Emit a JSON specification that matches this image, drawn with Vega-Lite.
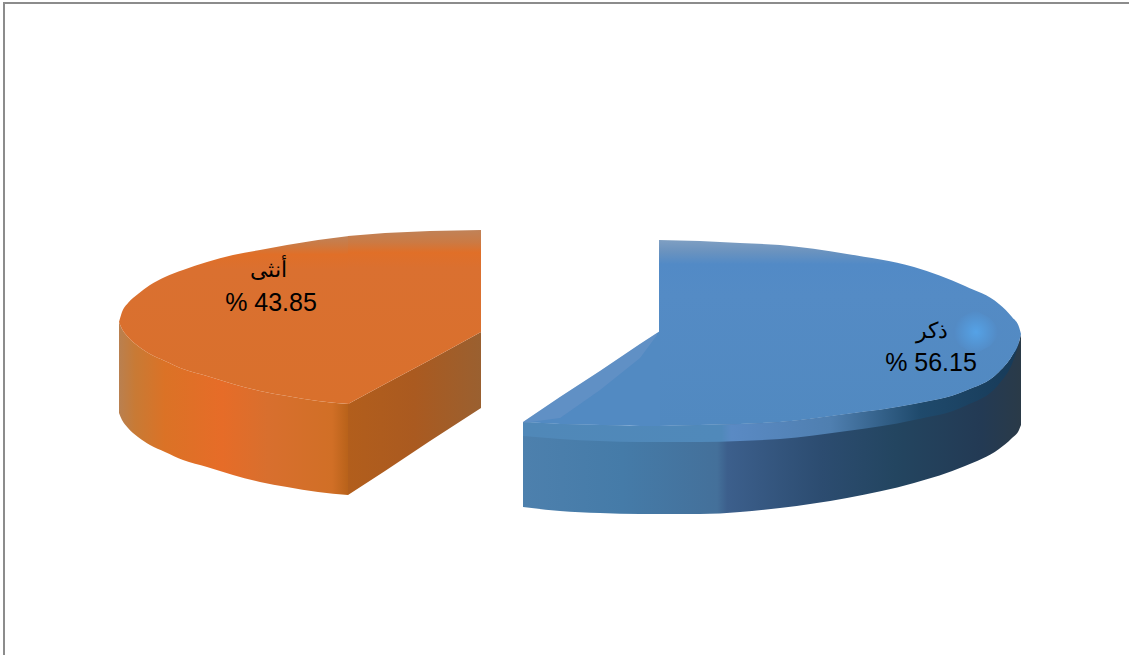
{
"$schema":"https://vega.github.io/schema/vega-lite/v6.json",
"width":1129,"height":655,"padding":0,"autosize":{"type":"none"},
"background":"white",
"config":{"view":{"stroke":null}},
"datasets":{
"frame":[{"x":4,"y":655,"o":0},{"x":4,"y":3,"o":1},{"x":1129,"y":3,"o":2}],
"orangeFaceArc":[{"x":119,"y":322,"y2":322},{"x":122,"y":312,"y2":329},{"x":128,"y":303,"y2":337},{"x":138,"y":294,"y2":346},{"x":150,"y":285,"y2":354},{"x":165,"y":277,"y2":361},{"x":183,"y":270,"y2":369},{"x":207,"y":262,"y2":376},{"x":233,"y":255,"y2":384},{"x":260,"y":250,"y2":391},{"x":287,"y":245,"y2":396},{"x":318,"y":240,"y2":401},{"x":349,"y":236,"y2":404}],
"orangeFaceCut":[{"x":348,"y":236,"y2":404},{"x":385,"y":233,"y2":384},{"x":430,"y":231,"y2":360},{"x":481,"y":230,"y2":332}],
"orangeWall":[{"x":119,"y":322,"y2":413},{"x":122,"y":329,"y2":420},{"x":128,"y":337,"y2":428},{"x":138,"y":346,"y2":437},{"x":150,"y":354,"y2":445},{"x":165,"y":361,"y2":452},{"x":183,"y":369,"y2":460},{"x":207,"y":376,"y2":467},{"x":233,"y":384,"y2":475},{"x":260,"y":391,"y2":482},{"x":287,"y":396,"y2":487},{"x":318,"y":401,"y2":492},{"x":348,"y":404,"y2":495}],
"orangeCut":[{"x":348,"y":404,"y2":495},{"x":385,"y":384,"y2":471},{"x":430,"y":360,"y2":441},{"x":481,"y":332,"y2":408}],
"blueWall":[{"x":523,"y":422,"y2":507},{"x":560,"y":424,"y2":511},{"x":600,"y":425,"y2":513},{"x":640,"y":426,"y2":514},{"x":700,"y":425,"y2":514},{"x":740,"y":424,"y2":512},{"x":780,"y":422,"y2":508},{"x":847,"y":414,"y2":498},{"x":914,"y":404,"y2":483},{"x":965,"y":391,"y2":466},{"x":999,"y":372,"y2":449},{"x":1012,"y":356,"y2":438},{"x":1019,"y":342,"y2":430},{"x":1021,"y":334,"y2":425}],
"blueBand":[{"x":523,"y":422,"y2":436},{"x":560,"y":424,"y2":439},{"x":600,"y":425,"y2":441},{"x":640,"y":426,"y2":442},{"x":700,"y":425,"y2":442},{"x":740,"y":424,"y2":441},{"x":780,"y":422,"y2":439},{"x":847,"y":414,"y2":431},{"x":914,"y":404,"y2":420},{"x":965,"y":391,"y2":406},{"x":999,"y":372,"y2":384},{"x":1012,"y":356,"y2":364},{"x":1019,"y":342,"y2":344}],
"blueFaceCut":[{"x":523,"y":422,"y2":422},{"x":560,"y":397,"y2":424},{"x":600,"y":371,"y2":425},{"x":640,"y":344,"y2":426},{"x":660,"y":331,"y2":426}],
"blueFaceArc":[{"x":659,"y":240,"y2":426},{"x":700,"y":241,"y2":425},{"x":740,"y":243,"y2":424},{"x":780,"y":245,"y2":422},{"x":847,"y":254,"y2":414},{"x":914,"y":267,"y2":404},{"x":965,"y":286,"y2":391},{"x":999,"y":304,"y2":372},{"x":1012,"y":317,"y2":356},{"x":1019,"y":327,"y2":342},{"x":1021,"y":334,"y2":334}],
"blueCutEdge":[{"x":523,"y":422,"y2":423},{"x":560,"y":397,"y2":418},{"x":600,"y":371,"y2":390},{"x":640,"y":344,"y2":358},{"x":657,"y":333,"y2":335}],
"blueGlow":[{"x":950,"y":332,"y2":332},{"x":960,"y":318,"y2":346},{"x":975,"y":310,"y2":354},{"x":990,"y":318,"y2":346},{"x":1002,"y":332,"y2":332}],
"labels":[{"slice":"أنثى","value":43.85,"x":268,"y":270,"text":"أنثى","size":22},{"slice":"أنثى","value":43.85,"x":271,"y":303,"text":"% 43.85","size":25},{"slice":"ذكر","value":56.15,"x":932,"y":331,"text":"ذكر","size":22},{"slice":"ذكر","value":56.15,"x":931,"y":363,"text":"% 56.15","size":25}]
},
"encoding":{
"x":{"field":"x","type":"quantitative","scale":{"domain":[0,1129],"nice":false,"zero":false},"axis":null},
"y":{"field":"y","type":"quantitative","scale":{"domain":[655,0],"nice":false,"zero":false},"axis":null}
},
"layer":[
{"data":{"name":"frame"},"mark":{"type":"line","color":"#8c8c8c","strokeWidth":2},"encoding":{"order":{"field":"o"}}},
{"data":{"name":"orangeWall"},"mark":{"type":"area","interpolate":"monotone","color":{"gradient":"linear","x1":0,"x2":1,"y1":0,"y2":0,"stops":[{"offset":0,"color":"#b98050"},{"offset":0.07,"color":"#c87a35"},{"offset":0.2,"color":"#db7226"},{"offset":0.45,"color":"#e66c28"},{"offset":0.65,"color":"#d86f2e"},{"offset":0.93,"color":"#d16f26"},{"offset":1,"color":"#b8621a"}]}},"encoding":{"y2":{"field":"y2"}}},
{"data":{"name":"orangeCut"},"mark":{"type":"area","color":{"gradient":"linear","x1":0,"x2":1,"y1":0,"y2":0,"stops":[{"offset":0,"color":"#b25e1c"},{"offset":0.5,"color":"#aa5a20"},{"offset":1,"color":"#9a6030"}]}},"encoding":{"y2":{"field":"y2"}}},
{"data":{"name":"orangeFaceArc"},"mark":{"type":"area","interpolate":"monotone","color":{"gradient":"linear","x1":0,"x2":0,"y1":0,"y2":1,"stops":[{"offset":0,"color":"#c08258"},{"offset":0.05,"color":"#cb7a44"},{"offset":0.11,"color":"#e06f28"},{"offset":0.2,"color":"#da7030"},{"offset":1,"color":"#d9702c"}]}},"encoding":{"y2":{"field":"y2"}}},
{"data":{"name":"orangeFaceCut"},"mark":{"type":"area","color":{"gradient":"linear","x1":0,"x2":0,"y1":0,"y2":1,"stops":[{"offset":0,"color":"#c08258"},{"offset":0.07,"color":"#cb7a44"},{"offset":0.13,"color":"#e06f28"},{"offset":0.22,"color":"#da7030"},{"offset":1,"color":"#d9702c"}]}},"encoding":{"y2":{"field":"y2"}}},
{"data":{"name":"blueWall"},"mark":{"type":"area","interpolate":"monotone","color":{"gradient":"linear","x1":0,"x2":1,"y1":0,"y2":0,"stops":[{"offset":0,"color":"#4d80ad"},{"offset":0.2,"color":"#457ba8"},{"offset":0.39,"color":"#44709a"},{"offset":0.41,"color":"#3c5f8c"},{"offset":0.6,"color":"#2c4c70"},{"offset":0.75,"color":"#234560"},{"offset":0.92,"color":"#233a54"},{"offset":1,"color":"#2a3a48"}]}},"encoding":{"y2":{"field":"y2"}}},
{"data":{"name":"blueBand"},"mark":{"type":"area","interpolate":"monotone","color":{"gradient":"linear","x1":0,"x2":1,"y1":0,"y2":0,"stops":[{"offset":0,"color":"#5088b8"},{"offset":0.4,"color":"#5089ba"},{"offset":0.42,"color":"#5a8ac4"},{"offset":0.62,"color":"#4f7fb0"},{"offset":0.8,"color":"#1f4a6c"},{"offset":1,"color":"#173a58"}]}},"encoding":{"y2":{"field":"y2"}}},
{"data":{"name":"blueFaceArc"},"mark":{"type":"area","interpolate":"monotone","color":{"gradient":"linear","x1":0,"x2":0,"y1":0,"y2":1,"stops":[{"offset":0,"color":"#7f9fc2"},{"offset":0.06,"color":"#6b93bf"},{"offset":0.13,"color":"#528ac6"},{"offset":0.3,"color":"#548bc5"},{"offset":1,"color":"#5189c0"}]}},"encoding":{"y2":{"field":"y2"}}},
{"data":{"name":"blueFaceCut"},"mark":{"type":"area","color":"#528ac2"},"encoding":{"y2":{"field":"y2"}}},
{"data":{"name":"blueCutEdge"},"mark":{"type":"area","color":"#7a9ccc","opacity":0.35},"encoding":{"y2":{"field":"y2"}}},
{"data":{"name":"blueGlow"},"mark":{"type":"area","color":{"gradient":"radial","x1":0.5,"y1":0.5,"r1":0,"x2":0.5,"y2":0.5,"r2":0.42,"stops":[{"offset":0,"color":"#55a2e6"},{"offset":1,"color":"#538ac4"}]}},"encoding":{"y2":{"field":"y2"}}},
{"data":{"name":"labels"},"mark":{"type":"text","font":"Liberation Sans","color":"#000000","align":"center","baseline":"middle"},"encoding":{"text":{"field":"text"},"size":{"field":"size","type":"quantitative","scale":null}}}
]
}
